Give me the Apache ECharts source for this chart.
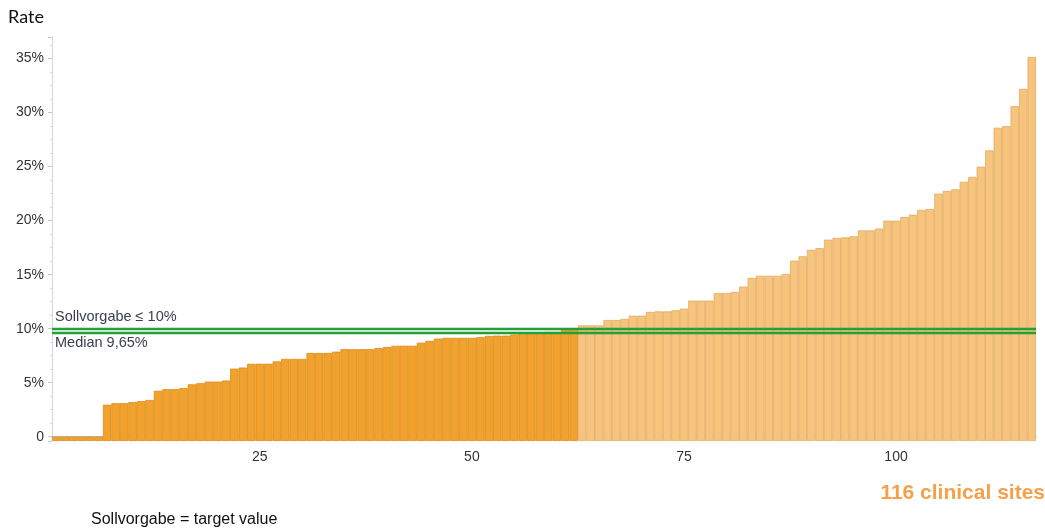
<!DOCTYPE html>
<html>
<head>
<meta charset="utf-8">
<script src="https://cdn.jsdelivr.net/npm/echarts@6/dist/echarts.min.js"></script>
<style>
html,body{margin:0;padding:0;background:#fff;}
#c{width:1045px;height:528px;}
</style>
</head>
<body>
<div id="c"></div>
<script>
// ---- data ----
const rates = [
  0, 0, 0, 0, 0, 0, 2.96, 3.1, 3.1, 3.2,
  3.3, 3.4, 4.25, 4.4, 4.4, 4.5, 4.85, 4.95, 5.1, 5.1,
  5.2, 6.3, 6.4, 6.75, 6.75, 6.75, 6.97, 7.2, 7.2, 7.2,
  7.75, 7.75, 7.75, 7.87, 8.1, 8.1, 8.1, 8.1, 8.2, 8.3,
  8.42, 8.42, 8.42, 8.7, 8.87, 9.08, 9.15, 9.15, 9.15, 9.15,
  9.22, 9.33, 9.35, 9.35, 9.46, 9.6, 9.6, 9.6, 9.7, 9.7,
  9.9, 10.0, 10.3, 10.3, 10.3, 10.8, 10.8, 10.9, 11.2, 11.2,
  11.55, 11.6, 11.6, 11.7, 11.85, 12.6, 12.6, 12.6, 13.3, 13.3,
  13.4, 13.9, 14.7, 14.9, 14.9, 14.9, 15.06, 16.3, 16.7, 17.3,
  17.45, 18.24, 18.4, 18.45, 18.55, 19.1, 19.1, 19.26, 20.0, 20.0,
  20.34, 20.55, 21.0, 21.08, 22.5, 22.75, 22.9, 23.6, 24.05, 25.0,
  26.5, 28.6, 28.75, 30.6, 32.2, 35.15
];
const categories = rates.map((_, i) => String(i + 1));
const xTickLabels = ['25', '50', '75', '100'];
const yTickValues = [0, 5, 10, 15, 20, 25, 30, 35];
const targetValue = 10;
const medianValue = 9.65;
const targetLabel = 'Sollvorgabe \u2264 10%';
const medianLabel = 'Median 9,65%';
const siteCountLabel = '116 clinical sites';
const footnote = 'Sollvorgabe = target value';
const yTitle = 'Rate';

// ---- styles ----
const DARK = '#F2A22C', DARK_B = '#D98D1E';
const LIGHT = '#F6C47C', LIGHT_B = '#E2AC64';
const GREEN = '#22A03A';
const FONT = 'Liberation Sans, Arial, sans-serif';

const barData = rates.map(v => ({
  value: v,
  itemStyle: v <= targetValue
    ? { color: DARK, borderColor: DARK_B, borderWidth: 0.8 }
    : { color: LIGHT, borderColor: LIGHT_B, borderWidth: 0.8 }
}));

const chart = echarts.init(document.getElementById('c'), null, { renderer: 'canvas' });
chart.setOption({
  animation: false,
  backgroundColor: '#fff',
  title: [
    { text: yTitle, left: 8, top: 8, padding: 0, textStyle: { fontFamily: 'Lato', fontSize: 18, fontWeight: 'normal', color: '#111' } },
    { text: siteCountLabel, right: 0, top: 483, padding: 0, textStyle: { fontFamily: FONT, fontSize: 21, fontWeight: 'bold', color: '#F5A04A' } },
    { text: footnote, left: 91, top: 512, padding: 0, textStyle: { fontFamily: FONT, fontSize: 16, fontWeight: 'normal', color: '#111' } }
  ],
  grid: { left: 52, right: 9, top: 37, bottom: 87, containLabel: false },
  xAxis: {
    type: 'category',
    data: categories,
    boundaryGap: true,
    axisLine: { show: true, lineStyle: { color: '#BDBDBD', width: 1 } },
    axisTick: {
      show: true, alignWithLabel: true, length: 4,
      interval: (i, v) => xTickLabels.includes(v),
      lineStyle: { color: '#BDBDBD' }
    },
    axisLabel: {
      interval: (i, v) => xTickLabels.includes(v),
      margin: 9, fontFamily: FONT, fontSize: 14, color: '#333'
    },
    splitLine: { show: false }
  },
  yAxis: {
    type: 'value',
    min: -0.4, max: 37, splitNumber: 7,
    startValue: -0.4,
    axisLine: { show: true, lineStyle: { color: '#D6D6D6', width: 1 } },
    axisTick: { show: true, length: 4, lineStyle: { color: '#C8C8C8' } },
    minorTick: { show: true, splitNumber: 4, length: 2, lineStyle: { color: '#D6D6D6' } },
    axisLabel: {
      margin: 8, fontFamily: FONT, fontSize: 14, color: '#333',
      formatter: v => (yTickValues.includes(v) ? (v === 0 ? '0' : v + '%') : '')
    },
    splitLine: { show: false }
  },
  series: [{
    type: 'bar',
    data: barData,
    barCategoryGap: '0%',
    barGap: '0%',
    markLine: {
      silent: true,
      symbol: 'none',
      animation: false,
      data: [
        {
          yAxis: targetValue,
          lineStyle: { color: GREEN, width: 2.3, type: 'solid' },
          label: { show: true, formatter: targetLabel, position: 'insideStartTop', distance: [3, 4],
                   fontFamily: FONT, fontSize: 14.5, color: '#3A3F4D' }
        },
        {
          yAxis: medianValue,
          lineStyle: { color: GREEN, width: 2.3, type: 'solid' },
          label: { show: true, formatter: medianLabel, position: 'insideStartBottom', distance: [3, 3],
                   fontFamily: FONT, fontSize: 14.5, color: '#3A3F4D' }
        }
      ]
    }
  }]
});
</script>
</body>
</html>
